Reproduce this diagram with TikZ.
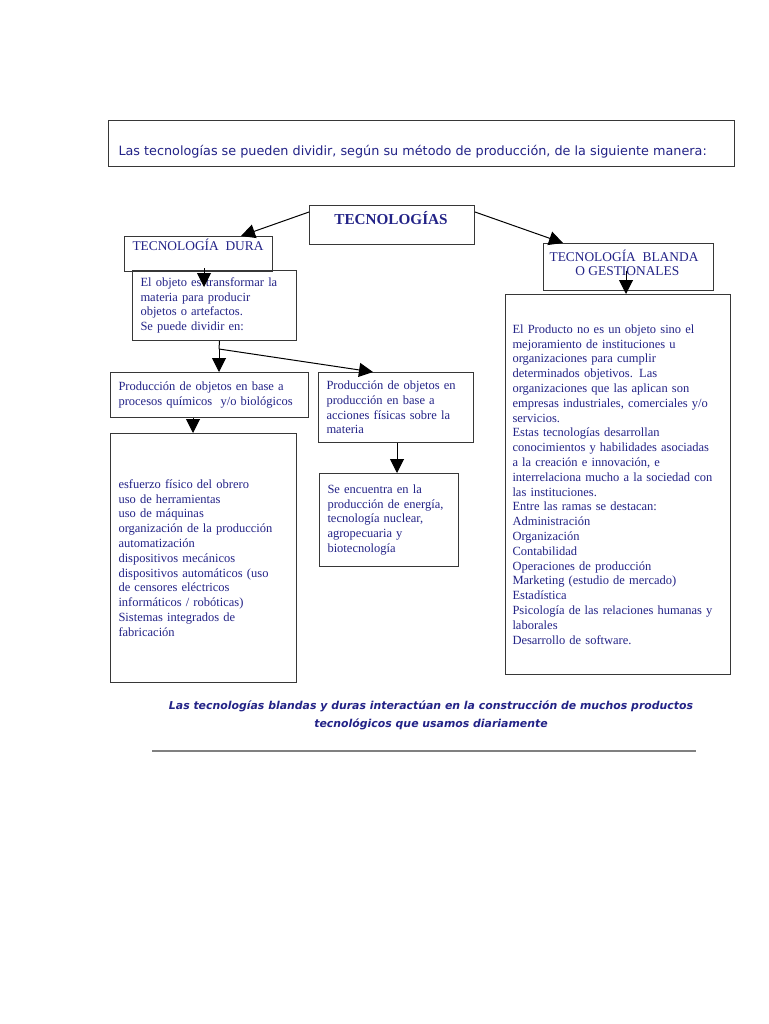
\documentclass[tikz,border=0pt]{standalone}
\usepackage{fontspec}
\setmainfont{Liberation Serif}
\newfontfamily\comica{DejaVu Sans}
\usepackage[dvipsnames]{xcolor}
\usetikzlibrary{arrows.meta}
\definecolor{azul}{RGB}{35,35,135}
\definecolor{borde}{RGB}{55,55,55}

\begin{document}
\begin{tikzpicture}[x=1pt,y=-1pt,->,>={Triangle[length=14pt,width=14pt]},line width=1pt,
    caja/.style={draw=borde,anchor=north west,inner sep=0pt},
    texto/.style={text=azul,align=left,font=\fontsize{12.5}{14.8}\selectfont},
    titulo/.style={text=azul,inner sep=0pt,font=\fontsize{13.4}{14}\selectfont}]
    \path[-,fill=white] (0,0) rectangle (768,1024);
    \useasboundingbox (0,0) rectangle (768,1024);

    % encabezado
    \node[caja,minimum width=626,minimum height=46] (marco) at (108,120) {};
    \node[anchor=base west,inner sep=0pt,text=azul,font=\comica\fontsize{12.8}{14}\selectfont] (intro) at (118,156) {Las tecnologías se pueden dividir, según su método de producción, de la siguiente manera:};

    % raiz
    \node[caja,minimum width=165,minimum height=39] (tec) at (309,205) {};
    \node[anchor=base,inner sep=0pt,text=azul,font=\bfseries\fontsize{15.2}{16}\selectfont] (tectxt) at (391,225) {TECNOLOGÍAS};

    % rama dura
    \node[caja,minimum width=148,minimum height=35] (dura) at (124,236) {};
    \node[anchor=base west,titulo] (duratxt) at (132,251) {TECNOLOGÍA\ \ DURA};
    \node[caja,texto,minimum width=164,minimum height=70,text width=148] (objeto) at (132,270)
        {El objeto es transformar la\\materia para producir\\objetos o artefactos.\\Se puede dividir en:};
    \node[caja,texto,minimum width=198,minimum height=45,text width=182] (prod1) at (110,372)
        {Producción de objetos en base a\\procesos químicos\ \ y/o biológicos};
    \node[caja,texto,minimum width=155,minimum height=70,text width=139] (prod2) at (318,372)
        {Producción de objetos en\\producción en base a\\acciones físicas sobre la\\materia};
    \node[caja,texto,minimum width=186,minimum height=249,text width=170] (listadura) at (110,433)
        {esfuerzo físico del obrero\\uso de herramientas\\uso de máquinas\\organización de la producción\\automatización\\dispositivos mecánicos\\dispositivos automáticos (uso\\de censores eléctricos\\informáticos / robóticas)\\Sistemas integrados de\\fabricación};
    \node[caja,texto,minimum width=139,minimum height=93,text width=123] (energia) at (319,473)
        {Se encuentra en la\\producción de energía,\\tecnología nuclear,\\agropecuaria y\\biotecnología};

    % rama blanda
    \node[caja,minimum width=170,minimum height=47] (blanda) at (543,243) {};
    \node[anchor=base,align=center,titulo] (blandatxt) at (624,275) {TECNOLOGÍA\ \ BLANDA\\\ \ O GESTIONALES};
    \node[caja,texto,minimum width=225,minimum height=380,text width=211] (producto) at (505,294)
        {El Producto no es un objeto sino el\\mejoramiento de instituciones u\\organizaciones para cumplir\\determinados objetivos. Las\\organizaciones que las aplican son\\empresas industriales, comerciales y/o\\servicios.\\Estas tecnologías desarrollan\\conocimientos y habilidades asociadas\\a la creación e innovación, e\\interrelaciona mucho a la sociedad con\\las instituciones.\\Entre las ramas se destacan:\\Administración\\Organización\\Contabilidad\\Operaciones de producción\\Marketing (estudio de mercado)\\Estadística\\Psicología de las relaciones humanas y\\laborales\\Desarrollo de software.};

    \coordinate (rama) at (219,349);

    \path
        ([yshift=-7]tec.north west) edge ([xshift=-32]dura.north east)
        ([yshift=-7]tec.north east) edge ([xshift=20]blanda.north west)
        ([shift={(80,-4)}]dura.south west) edge ([shift={(72,17)}]objeto.north west)
        ([shift={(83,-20)}]blanda.south west) edge ([xshift=121]producto.north west)
        ([xshift=5]objeto.south) edge[-] (rama)
        (rama) edge (prod1.north -| rama)
        (rama) edge ([xshift=55]prod2.north west)
        ([xshift=83]prod1.south west) edge ([xshift=83]listadura.north west)
        ([xshift=79]prod2.south west) edge ([xshift=78]energia.north west)
        ;

    % pie
    \node[anchor=north,align=center,text=azul,font=\comica\bfseries\itshape\fontsize{10.9}{18}\selectfont] (nota) at (431,697)
        {Las tecnologías blandas y duras interactúan en la construcción de muchos productos\\tecnológicos que usamos diariamente};
    \coordinate (rayaizq) at (152,751);
    \coordinate (rayader) at (696,751);
    \draw[-,draw=gray,line width=1.3] (rayaizq) -- (rayader);
\end{tikzpicture}
\end{document}
